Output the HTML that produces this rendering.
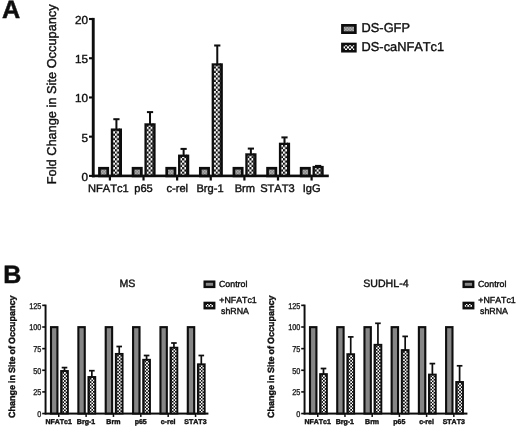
<!DOCTYPE html>
<html><head><meta charset="utf-8"><title>Figure</title>
<style>
html,body{margin:0;padding:0;background:#fff;}
body{width:520px;height:429px;overflow:hidden;font-family:"Liberation Sans",sans-serif;}
svg{display:block;}
text{font-family:"Liberation Sans",sans-serif;fill:#111;stroke:#111;stroke-width:0.4px;font-kerning:none;text-rendering:geometricPrecision;}
</style></head><body>
<svg width="520" height="429" viewBox="0 0 520 429">
<defs>
<filter id="soft" x="0" y="0" width="520" height="429" filterUnits="userSpaceOnUse"><feGaussianBlur stdDeviation="0.45"/></filter>
<pattern id="dotA" width="1.5" height="1.5" patternUnits="userSpaceOnUse">
<rect width="1.5" height="1.5" fill="#c6c6c6"/>
<rect x="0" y="0" width="0.75" height="0.75" fill="#6c6c6c"/>
<rect x="0.75" y="0.75" width="0.75" height="0.75" fill="#6c6c6c"/>
</pattern>

<pattern id="c1" x="110.85" y="64.08" width="4.080" height="4.480" patternUnits="userSpaceOnUse"><rect width="4.080" height="4.480" fill="#fff"/><rect x="0" y="0" width="2.040" height="2.240" fill="#0d0d0d"/><rect x="2.040" y="2.240" width="2.040" height="2.240" fill="#0d0d0d"/></pattern>
<pattern id="c2" x="144.47" y="64.08" width="4.080" height="4.480" patternUnits="userSpaceOnUse"><rect width="4.080" height="4.480" fill="#fff"/><rect x="0" y="0" width="2.040" height="2.240" fill="#0d0d0d"/><rect x="2.040" y="2.240" width="2.040" height="2.240" fill="#0d0d0d"/></pattern>
<pattern id="c3" x="178.09" y="64.08" width="4.080" height="4.480" patternUnits="userSpaceOnUse"><rect width="4.080" height="4.480" fill="#fff"/><rect x="0" y="0" width="2.040" height="2.240" fill="#0d0d0d"/><rect x="2.040" y="2.240" width="2.040" height="2.240" fill="#0d0d0d"/></pattern>
<pattern id="c4" x="211.71" y="64.08" width="4.080" height="4.480" patternUnits="userSpaceOnUse"><rect width="4.080" height="4.480" fill="#fff"/><rect x="0" y="0" width="2.040" height="2.240" fill="#0d0d0d"/><rect x="2.040" y="2.240" width="2.040" height="2.240" fill="#0d0d0d"/></pattern>
<pattern id="c5" x="245.33" y="64.08" width="4.080" height="4.480" patternUnits="userSpaceOnUse"><rect width="4.080" height="4.480" fill="#fff"/><rect x="0" y="0" width="2.040" height="2.240" fill="#0d0d0d"/><rect x="2.040" y="2.240" width="2.040" height="2.240" fill="#0d0d0d"/></pattern>
<pattern id="c6" x="278.95" y="64.08" width="4.080" height="4.480" patternUnits="userSpaceOnUse"><rect width="4.080" height="4.480" fill="#fff"/><rect x="0" y="0" width="2.040" height="2.240" fill="#0d0d0d"/><rect x="2.040" y="2.240" width="2.040" height="2.240" fill="#0d0d0d"/></pattern>
<pattern id="c7" x="312.57" y="64.08" width="4.080" height="4.480" patternUnits="userSpaceOnUse"><rect width="4.080" height="4.480" fill="#fff"/><rect x="0" y="0" width="2.040" height="2.240" fill="#0d0d0d"/><rect x="2.040" y="2.240" width="2.040" height="2.240" fill="#0d0d0d"/></pattern>
<pattern id="c8" x="343.00" y="44.00" width="4.000" height="4.480" patternUnits="userSpaceOnUse"><rect width="4.000" height="4.480" fill="#fff"/><rect x="0" y="0" width="2.000" height="2.240" fill="#0d0d0d"/><rect x="2.000" y="2.240" width="2.000" height="2.240" fill="#0d0d0d"/></pattern>
<pattern id="c9" x="60.82" y="370.40" width="3.260" height="3.260" patternUnits="userSpaceOnUse"><rect width="3.260" height="3.260" fill="#fff"/><rect x="0" y="0" width="1.630" height="1.630" fill="#0d0d0d"/><rect x="1.630" y="1.630" width="1.630" height="1.630" fill="#0d0d0d"/></pattern>
<pattern id="c10" x="88.18" y="376.40" width="3.260" height="3.260" patternUnits="userSpaceOnUse"><rect width="3.260" height="3.260" fill="#fff"/><rect x="0" y="0" width="1.630" height="1.630" fill="#0d0d0d"/><rect x="1.630" y="1.630" width="1.630" height="1.630" fill="#0d0d0d"/></pattern>
<pattern id="c11" x="115.54" y="353.30" width="3.260" height="3.260" patternUnits="userSpaceOnUse"><rect width="3.260" height="3.260" fill="#fff"/><rect x="0" y="0" width="1.630" height="1.630" fill="#0d0d0d"/><rect x="1.630" y="1.630" width="1.630" height="1.630" fill="#0d0d0d"/></pattern>
<pattern id="c12" x="142.90" y="359.20" width="3.260" height="3.260" patternUnits="userSpaceOnUse"><rect width="3.260" height="3.260" fill="#fff"/><rect x="0" y="0" width="1.630" height="1.630" fill="#0d0d0d"/><rect x="1.630" y="1.630" width="1.630" height="1.630" fill="#0d0d0d"/></pattern>
<pattern id="c13" x="170.26" y="347.10" width="3.260" height="3.260" patternUnits="userSpaceOnUse"><rect width="3.260" height="3.260" fill="#fff"/><rect x="0" y="0" width="1.630" height="1.630" fill="#0d0d0d"/><rect x="1.630" y="1.630" width="1.630" height="1.630" fill="#0d0d0d"/></pattern>
<pattern id="c14" x="197.62" y="363.70" width="3.260" height="3.260" patternUnits="userSpaceOnUse"><rect width="3.260" height="3.260" fill="#fff"/><rect x="0" y="0" width="1.630" height="1.630" fill="#0d0d0d"/><rect x="1.630" y="1.630" width="1.630" height="1.630" fill="#0d0d0d"/></pattern>
<pattern id="c15" x="205.30" y="303.60" width="3.100" height="3.100" patternUnits="userSpaceOnUse"><rect width="3.100" height="3.100" fill="#fff"/><rect x="0" y="0" width="1.550" height="1.550" fill="#0d0d0d"/><rect x="1.550" y="1.550" width="1.550" height="1.550" fill="#0d0d0d"/></pattern>
<pattern id="c16" x="319.82" y="373.50" width="3.260" height="3.260" patternUnits="userSpaceOnUse"><rect width="3.260" height="3.260" fill="#fff"/><rect x="0" y="0" width="1.630" height="1.630" fill="#0d0d0d"/><rect x="1.630" y="1.630" width="1.630" height="1.630" fill="#0d0d0d"/></pattern>
<pattern id="c17" x="347.04" y="353.60" width="3.260" height="3.260" patternUnits="userSpaceOnUse"><rect width="3.260" height="3.260" fill="#fff"/><rect x="0" y="0" width="1.630" height="1.630" fill="#0d0d0d"/><rect x="1.630" y="1.630" width="1.630" height="1.630" fill="#0d0d0d"/></pattern>
<pattern id="c18" x="374.26" y="344.20" width="3.260" height="3.260" patternUnits="userSpaceOnUse"><rect width="3.260" height="3.260" fill="#fff"/><rect x="0" y="0" width="1.630" height="1.630" fill="#0d0d0d"/><rect x="1.630" y="1.630" width="1.630" height="1.630" fill="#0d0d0d"/></pattern>
<pattern id="c19" x="401.48" y="349.50" width="3.260" height="3.260" patternUnits="userSpaceOnUse"><rect width="3.260" height="3.260" fill="#fff"/><rect x="0" y="0" width="1.630" height="1.630" fill="#0d0d0d"/><rect x="1.630" y="1.630" width="1.630" height="1.630" fill="#0d0d0d"/></pattern>
<pattern id="c20" x="428.70" y="374.00" width="3.260" height="3.260" patternUnits="userSpaceOnUse"><rect width="3.260" height="3.260" fill="#fff"/><rect x="0" y="0" width="1.630" height="1.630" fill="#0d0d0d"/><rect x="1.630" y="1.630" width="1.630" height="1.630" fill="#0d0d0d"/></pattern>
<pattern id="c21" x="455.92" y="381.40" width="3.260" height="3.260" patternUnits="userSpaceOnUse"><rect width="3.260" height="3.260" fill="#fff"/><rect x="0" y="0" width="1.630" height="1.630" fill="#0d0d0d"/><rect x="1.630" y="1.630" width="1.630" height="1.630" fill="#0d0d0d"/></pattern>
<pattern id="c22" x="464.30" y="303.60" width="3.100" height="3.100" patternUnits="userSpaceOnUse"><rect width="3.100" height="3.100" fill="#fff"/><rect x="0" y="0" width="1.550" height="1.550" fill="#0d0d0d"/><rect x="1.550" y="1.550" width="1.550" height="1.550" fill="#0d0d0d"/></pattern>
</defs>
<rect width="520" height="429" fill="#fff"/>
<g filter="url(#soft)">
<text x="2.0" y="18.4" font-size="25.2" font-weight="bold" style="stroke-width:0.5px">A</text>
<text transform="translate(56.4,184.3) rotate(-90)" font-size="12.8">Fold Change in Site Occupancy</text>
<rect x="91.8" y="17.9" width="2.9" height="159.4" fill="#0d0d0d"/>
<rect x="92" y="174.6" width="236.8" height="2.6" fill="#0d0d0d"/>
<rect x="89" y="174.85" width="4" height="2.1" fill="#0d0d0d"/>
<text x="87.9" y="180.90" font-size="11.7" text-anchor="end">0</text>
<rect x="89" y="135.62" width="4" height="2.1" fill="#0d0d0d"/>
<text x="87.9" y="141.68" font-size="11.7" text-anchor="end">5</text>
<rect x="89" y="96.40" width="4" height="2.1" fill="#0d0d0d"/>
<text x="87.9" y="102.45" font-size="11.7" text-anchor="end">10</text>
<rect x="89" y="57.18" width="4" height="2.1" fill="#0d0d0d"/>
<text x="87.9" y="63.23" font-size="11.7" text-anchor="end">15</text>
<rect x="89" y="17.95" width="4" height="2.1" fill="#0d0d0d"/>
<text x="87.9" y="24.00" font-size="11.7" text-anchor="end">20</text>
<rect x="99.45" y="168.25" width="8.30" height="7.65" fill="url(#dotA)" stroke="#0d0d0d" stroke-width="2.7"/>
<rect x="115.40" y="119.20" width="2" height="10.30" fill="#0d0d0d"/>
<rect x="113.30" y="118.20" width="6.2" height="2" fill="#0d0d0d"/>
<rect x="111.95" y="129.65" width="8.90" height="46.25" fill="url(#c1)" stroke="#0d0d0d" stroke-width="2.3"/>
<rect x="118.90" y="128.50" width="1.0" height="47.40" fill="#0d0d0d"/>
<rect x="108.80" y="176" width="2.2" height="4.5" fill="#0d0d0d"/>
<text x="108.30" y="192.3" font-size="11.1" text-anchor="middle">NFATc1</text>
<rect x="133.07" y="168.25" width="8.30" height="7.65" fill="url(#dotA)" stroke="#0d0d0d" stroke-width="2.7"/>
<rect x="149.02" y="112.10" width="2" height="12.20" fill="#0d0d0d"/>
<rect x="146.92" y="111.10" width="6.2" height="2" fill="#0d0d0d"/>
<rect x="145.57" y="124.45" width="8.90" height="51.45" fill="url(#c2)" stroke="#0d0d0d" stroke-width="2.3"/>
<rect x="152.52" y="123.30" width="1.0" height="52.60" fill="#0d0d0d"/>
<rect x="142.42" y="176" width="2.2" height="4.5" fill="#0d0d0d"/>
<text x="143.50" y="192.3" font-size="11.1" text-anchor="middle">p65</text>
<rect x="166.69" y="168.25" width="8.30" height="7.65" fill="url(#dotA)" stroke="#0d0d0d" stroke-width="2.7"/>
<rect x="182.64" y="148.90" width="2" height="6.70" fill="#0d0d0d"/>
<rect x="180.54" y="147.90" width="6.2" height="2" fill="#0d0d0d"/>
<rect x="179.19" y="155.75" width="8.90" height="20.15" fill="url(#c3)" stroke="#0d0d0d" stroke-width="2.3"/>
<rect x="186.14" y="154.60" width="1.0" height="21.30" fill="#0d0d0d"/>
<rect x="176.04" y="176" width="2.2" height="4.5" fill="#0d0d0d"/>
<text x="177.30" y="192.3" font-size="11.1" text-anchor="middle">c-rel</text>
<rect x="200.31" y="168.25" width="8.30" height="7.65" fill="url(#dotA)" stroke="#0d0d0d" stroke-width="2.7"/>
<rect x="216.26" y="45.50" width="2" height="18.80" fill="#0d0d0d"/>
<rect x="214.16" y="44.50" width="6.2" height="2" fill="#0d0d0d"/>
<rect x="212.81" y="64.45" width="8.90" height="111.45" fill="url(#c4)" stroke="#0d0d0d" stroke-width="2.3"/>
<rect x="219.76" y="63.30" width="1.0" height="112.60" fill="#0d0d0d"/>
<rect x="209.66" y="176" width="2.2" height="4.5" fill="#0d0d0d"/>
<text x="210.00" y="192.3" font-size="11.1" text-anchor="middle">Brg-1</text>
<rect x="233.93" y="168.25" width="8.30" height="7.65" fill="url(#dotA)" stroke="#0d0d0d" stroke-width="2.7"/>
<rect x="249.88" y="148.60" width="2" height="5.70" fill="#0d0d0d"/>
<rect x="247.78" y="147.60" width="6.2" height="2" fill="#0d0d0d"/>
<rect x="246.43" y="154.45" width="8.90" height="21.45" fill="url(#c5)" stroke="#0d0d0d" stroke-width="2.3"/>
<rect x="253.38" y="153.30" width="1.0" height="22.60" fill="#0d0d0d"/>
<rect x="243.28" y="176" width="2.2" height="4.5" fill="#0d0d0d"/>
<text x="244.90" y="192.3" font-size="11.1" text-anchor="middle">Brm</text>
<rect x="267.55" y="168.25" width="8.30" height="7.65" fill="url(#dotA)" stroke="#0d0d0d" stroke-width="2.7"/>
<rect x="283.50" y="137.40" width="2" height="6.30" fill="#0d0d0d"/>
<rect x="281.40" y="136.40" width="6.2" height="2" fill="#0d0d0d"/>
<rect x="280.05" y="143.85" width="8.90" height="32.05" fill="url(#c6)" stroke="#0d0d0d" stroke-width="2.3"/>
<rect x="287.00" y="142.70" width="1.0" height="33.20" fill="#0d0d0d"/>
<rect x="276.90" y="176" width="2.2" height="4.5" fill="#0d0d0d"/>
<text x="277.40" y="192.3" font-size="11.1" text-anchor="middle">STAT3</text>
<rect x="301.17" y="168.25" width="8.30" height="7.65" fill="url(#dotA)" stroke="#0d0d0d" stroke-width="2.7"/>
<rect x="317.12" y="165.90" width="2" height="1.00" fill="#0d0d0d"/>
<rect x="315.02" y="164.90" width="6.2" height="2" fill="#0d0d0d"/>
<rect x="313.67" y="167.05" width="8.90" height="8.85" fill="url(#c7)" stroke="#0d0d0d" stroke-width="2.3"/>
<rect x="320.62" y="165.90" width="1.0" height="10.00" fill="#0d0d0d"/>
<rect x="310.52" y="176" width="2.2" height="4.5" fill="#0d0d0d"/>
<text x="311.60" y="192.3" font-size="11.1" text-anchor="middle">IgG</text>
<rect x="342.45" y="25.35" width="12.90" height="7.30" fill="url(#dotA)" stroke="#0d0d0d" stroke-width="2.7"/>
<text x="361.6" y="32.4" font-size="12.8">DS-GFP</text>
<rect x="342.35" y="43.95" width="13.10" height="7.30" fill="url(#c8)" stroke="#0d0d0d" stroke-width="2.5"/>
<text x="361.6" y="50.5" font-size="12.8">DS-caNFATc1</text>
<text x="3.3" y="282.6" font-size="25" font-weight="bold" style="stroke-width:0.5px">B</text>
<text x="127.40" y="287.25" font-size="10.6" text-anchor="middle">MS</text>
<text transform="translate(15.40,418.1) rotate(-90)" font-size="9.0" font-weight="bold" word-spacing="-0.5">Change in Site of Occupancy</text>
<rect x="44.60" y="304.56" width="1.9" height="109.89" fill="#0d0d0d"/>
<rect x="44.80" y="412.60" width="163.60" height="2.0" fill="#0d0d0d"/>
<rect x="42.20" y="412.75" width="3" height="1.6" fill="#0d0d0d"/>
<text transform="translate(41.30,416.85) scale(0.87,1)" font-size="8.4" text-anchor="end" style="stroke-width:0.3px">0</text>
<rect x="42.20" y="391.11" width="3" height="1.6" fill="#0d0d0d"/>
<text transform="translate(41.30,395.21) scale(0.87,1)" font-size="8.4" text-anchor="end" style="stroke-width:0.3px">25</text>
<rect x="42.20" y="369.47" width="3" height="1.6" fill="#0d0d0d"/>
<text transform="translate(41.30,373.57) scale(0.87,1)" font-size="8.4" text-anchor="end" style="stroke-width:0.3px">50</text>
<rect x="42.20" y="347.84" width="3" height="1.6" fill="#0d0d0d"/>
<text transform="translate(41.30,351.94) scale(0.87,1)" font-size="8.4" text-anchor="end" style="stroke-width:0.3px">75</text>
<rect x="42.20" y="326.20" width="3" height="1.6" fill="#0d0d0d"/>
<text transform="translate(41.30,330.30) scale(0.87,1)" font-size="8.4" text-anchor="end" style="stroke-width:0.3px">100</text>
<rect x="42.20" y="304.56" width="3" height="1.6" fill="#0d0d0d"/>
<text transform="translate(41.30,308.66) scale(0.87,1)" font-size="8.4" text-anchor="end" style="stroke-width:0.3px">125</text>
<rect x="51.00" y="327.15" width="6.40" height="86.40" fill="#868686" stroke="#0d0d0d" stroke-width="2.1"/>
<rect x="63.65" y="367.60" width="1.7" height="3.70" fill="#0d0d0d"/>
<rect x="61.70" y="366.75" width="5.6" height="1.7" fill="#0d0d0d"/>
<rect x="61.10" y="371.00" width="6.80" height="42.55" fill="url(#c9)" stroke="#0d0d0d" stroke-width="1.9"/>
<rect x="61.75" y="370.30" width="0.7" height="43.25" fill="#0d0d0d"/>
<rect x="58.00" y="413.55" width="1.5" height="3.4" fill="#0d0d0d"/>
<text x="58.65" y="423.9" font-size="7.0" font-weight="bold" text-anchor="middle" style="stroke-width:0.4px">NFATc1</text>
<rect x="78.36" y="327.15" width="6.40" height="86.40" fill="#868686" stroke="#0d0d0d" stroke-width="2.1"/>
<rect x="91.01" y="370.70" width="1.7" height="6.60" fill="#0d0d0d"/>
<rect x="89.06" y="369.85" width="5.6" height="1.7" fill="#0d0d0d"/>
<rect x="88.46" y="377.00" width="6.80" height="36.55" fill="url(#c10)" stroke="#0d0d0d" stroke-width="1.9"/>
<rect x="89.11" y="376.30" width="0.7" height="37.25" fill="#0d0d0d"/>
<rect x="85.36" y="413.55" width="1.5" height="3.4" fill="#0d0d0d"/>
<text x="86.01" y="423.9" font-size="7.0" font-weight="bold" text-anchor="middle" style="stroke-width:0.4px">Brg-1</text>
<rect x="105.72" y="327.15" width="6.40" height="86.40" fill="#868686" stroke="#0d0d0d" stroke-width="2.1"/>
<rect x="118.37" y="346.50" width="1.7" height="7.70" fill="#0d0d0d"/>
<rect x="116.42" y="345.65" width="5.6" height="1.7" fill="#0d0d0d"/>
<rect x="115.82" y="353.90" width="6.80" height="59.65" fill="url(#c11)" stroke="#0d0d0d" stroke-width="1.9"/>
<rect x="116.47" y="353.20" width="0.7" height="60.35" fill="#0d0d0d"/>
<rect x="112.72" y="413.55" width="1.5" height="3.4" fill="#0d0d0d"/>
<text x="113.37" y="423.9" font-size="7.0" font-weight="bold" text-anchor="middle" style="stroke-width:0.4px">Brm</text>
<rect x="133.08" y="327.15" width="6.40" height="86.40" fill="#868686" stroke="#0d0d0d" stroke-width="2.1"/>
<rect x="145.73" y="355.50" width="1.7" height="4.60" fill="#0d0d0d"/>
<rect x="143.78" y="354.65" width="5.6" height="1.7" fill="#0d0d0d"/>
<rect x="143.18" y="359.80" width="6.80" height="53.75" fill="url(#c12)" stroke="#0d0d0d" stroke-width="1.9"/>
<rect x="143.83" y="359.10" width="0.7" height="54.45" fill="#0d0d0d"/>
<rect x="140.08" y="413.55" width="1.5" height="3.4" fill="#0d0d0d"/>
<text x="140.73" y="423.9" font-size="7.0" font-weight="bold" text-anchor="middle" style="stroke-width:0.4px">p65</text>
<rect x="160.44" y="327.15" width="6.40" height="86.40" fill="#868686" stroke="#0d0d0d" stroke-width="2.1"/>
<rect x="173.09" y="343.00" width="1.7" height="5.00" fill="#0d0d0d"/>
<rect x="171.14" y="342.15" width="5.6" height="1.7" fill="#0d0d0d"/>
<rect x="170.54" y="347.70" width="6.80" height="65.85" fill="url(#c13)" stroke="#0d0d0d" stroke-width="1.9"/>
<rect x="171.19" y="347.00" width="0.7" height="66.55" fill="#0d0d0d"/>
<rect x="167.44" y="413.55" width="1.5" height="3.4" fill="#0d0d0d"/>
<text x="168.09" y="423.9" font-size="7.0" font-weight="bold" text-anchor="middle" style="stroke-width:0.4px">c-rel</text>
<rect x="187.80" y="327.15" width="6.40" height="86.40" fill="#868686" stroke="#0d0d0d" stroke-width="2.1"/>
<rect x="200.45" y="355.50" width="1.7" height="9.10" fill="#0d0d0d"/>
<rect x="198.50" y="354.65" width="5.6" height="1.7" fill="#0d0d0d"/>
<rect x="197.90" y="364.30" width="6.80" height="49.25" fill="url(#c14)" stroke="#0d0d0d" stroke-width="1.9"/>
<rect x="198.55" y="363.60" width="0.7" height="49.95" fill="#0d0d0d"/>
<rect x="194.80" y="413.55" width="1.5" height="3.4" fill="#0d0d0d"/>
<text x="195.45" y="423.9" font-size="7.0" font-weight="bold" text-anchor="middle" style="stroke-width:0.4px">STAT3</text>
<rect x="204.65" y="281.65" width="9.60" height="5.30" fill="#868686" stroke="#0d0d0d" stroke-width="2.3"/>
<text x="219.00" y="287.3" font-size="8.8">Control</text>
<rect x="204.65" y="302.85" width="9.60" height="5.40" fill="url(#c15)" stroke="#0d0d0d" stroke-width="2.3"/>
<text x="219.30" y="303.4" font-size="8.8">+NFATc1</text>
<text x="221.00" y="313.5" font-size="8.8">shRNA</text>
<text x="385.90" y="287.25" font-size="10.6" text-anchor="middle">SUDHL-4</text>
<text transform="translate(274.40,418.1) rotate(-90)" font-size="9.0" font-weight="bold" word-spacing="-0.5">Change in Site of Occupancy</text>
<rect x="303.60" y="304.56" width="1.9" height="109.89" fill="#0d0d0d"/>
<rect x="303.80" y="412.60" width="163.60" height="2.0" fill="#0d0d0d"/>
<rect x="301.20" y="412.75" width="3" height="1.6" fill="#0d0d0d"/>
<text transform="translate(300.30,416.85) scale(0.87,1)" font-size="8.4" text-anchor="end" style="stroke-width:0.3px">0</text>
<rect x="301.20" y="391.11" width="3" height="1.6" fill="#0d0d0d"/>
<text transform="translate(300.30,395.21) scale(0.87,1)" font-size="8.4" text-anchor="end" style="stroke-width:0.3px">25</text>
<rect x="301.20" y="369.47" width="3" height="1.6" fill="#0d0d0d"/>
<text transform="translate(300.30,373.57) scale(0.87,1)" font-size="8.4" text-anchor="end" style="stroke-width:0.3px">50</text>
<rect x="301.20" y="347.84" width="3" height="1.6" fill="#0d0d0d"/>
<text transform="translate(300.30,351.94) scale(0.87,1)" font-size="8.4" text-anchor="end" style="stroke-width:0.3px">75</text>
<rect x="301.20" y="326.20" width="3" height="1.6" fill="#0d0d0d"/>
<text transform="translate(300.30,330.30) scale(0.87,1)" font-size="8.4" text-anchor="end" style="stroke-width:0.3px">100</text>
<rect x="301.20" y="304.56" width="3" height="1.6" fill="#0d0d0d"/>
<text transform="translate(300.30,308.66) scale(0.87,1)" font-size="8.4" text-anchor="end" style="stroke-width:0.3px">125</text>
<rect x="310.00" y="327.15" width="6.40" height="86.40" fill="#868686" stroke="#0d0d0d" stroke-width="2.1"/>
<rect x="322.65" y="368.50" width="1.7" height="5.90" fill="#0d0d0d"/>
<rect x="320.70" y="367.65" width="5.6" height="1.7" fill="#0d0d0d"/>
<rect x="320.10" y="374.10" width="6.80" height="39.45" fill="url(#c16)" stroke="#0d0d0d" stroke-width="1.9"/>
<rect x="320.75" y="373.40" width="0.7" height="40.15" fill="#0d0d0d"/>
<rect x="317.00" y="413.55" width="1.5" height="3.4" fill="#0d0d0d"/>
<text x="317.65" y="423.9" font-size="7.0" font-weight="bold" text-anchor="middle" style="stroke-width:0.4px">NFATc1</text>
<rect x="337.22" y="327.15" width="6.40" height="86.40" fill="#868686" stroke="#0d0d0d" stroke-width="2.1"/>
<rect x="349.87" y="336.90" width="1.7" height="17.60" fill="#0d0d0d"/>
<rect x="347.92" y="336.05" width="5.6" height="1.7" fill="#0d0d0d"/>
<rect x="347.32" y="354.20" width="6.80" height="59.35" fill="url(#c17)" stroke="#0d0d0d" stroke-width="1.9"/>
<rect x="347.97" y="353.50" width="0.7" height="60.05" fill="#0d0d0d"/>
<rect x="344.22" y="413.55" width="1.5" height="3.4" fill="#0d0d0d"/>
<text x="344.87" y="423.9" font-size="7.0" font-weight="bold" text-anchor="middle" style="stroke-width:0.4px">Brg-1</text>
<rect x="364.44" y="327.15" width="6.40" height="86.40" fill="#868686" stroke="#0d0d0d" stroke-width="2.1"/>
<rect x="377.09" y="323.30" width="1.7" height="21.80" fill="#0d0d0d"/>
<rect x="375.14" y="322.45" width="5.6" height="1.7" fill="#0d0d0d"/>
<rect x="374.54" y="344.80" width="6.80" height="68.75" fill="url(#c18)" stroke="#0d0d0d" stroke-width="1.9"/>
<rect x="375.19" y="344.10" width="0.7" height="69.45" fill="#0d0d0d"/>
<rect x="371.44" y="413.55" width="1.5" height="3.4" fill="#0d0d0d"/>
<text x="372.09" y="423.9" font-size="7.0" font-weight="bold" text-anchor="middle" style="stroke-width:0.4px">Brm</text>
<rect x="391.66" y="327.15" width="6.40" height="86.40" fill="#868686" stroke="#0d0d0d" stroke-width="2.1"/>
<rect x="404.31" y="336.40" width="1.7" height="14.00" fill="#0d0d0d"/>
<rect x="402.36" y="335.55" width="5.6" height="1.7" fill="#0d0d0d"/>
<rect x="401.76" y="350.10" width="6.80" height="63.45" fill="url(#c19)" stroke="#0d0d0d" stroke-width="1.9"/>
<rect x="402.41" y="349.40" width="0.7" height="64.15" fill="#0d0d0d"/>
<rect x="398.66" y="413.55" width="1.5" height="3.4" fill="#0d0d0d"/>
<text x="399.31" y="423.9" font-size="7.0" font-weight="bold" text-anchor="middle" style="stroke-width:0.4px">p65</text>
<rect x="418.88" y="327.15" width="6.40" height="86.40" fill="#868686" stroke="#0d0d0d" stroke-width="2.1"/>
<rect x="431.53" y="363.60" width="1.7" height="11.30" fill="#0d0d0d"/>
<rect x="429.58" y="362.75" width="5.6" height="1.7" fill="#0d0d0d"/>
<rect x="428.98" y="374.60" width="6.80" height="38.95" fill="url(#c20)" stroke="#0d0d0d" stroke-width="1.9"/>
<rect x="429.63" y="373.90" width="0.7" height="39.65" fill="#0d0d0d"/>
<rect x="425.88" y="413.55" width="1.5" height="3.4" fill="#0d0d0d"/>
<text x="426.53" y="423.9" font-size="7.0" font-weight="bold" text-anchor="middle" style="stroke-width:0.4px">c-rel</text>
<rect x="446.10" y="327.15" width="6.40" height="86.40" fill="#868686" stroke="#0d0d0d" stroke-width="2.1"/>
<rect x="458.75" y="365.80" width="1.7" height="16.50" fill="#0d0d0d"/>
<rect x="456.80" y="364.95" width="5.6" height="1.7" fill="#0d0d0d"/>
<rect x="456.20" y="382.00" width="6.80" height="31.55" fill="url(#c21)" stroke="#0d0d0d" stroke-width="1.9"/>
<rect x="456.85" y="381.30" width="0.7" height="32.25" fill="#0d0d0d"/>
<rect x="453.10" y="413.55" width="1.5" height="3.4" fill="#0d0d0d"/>
<text x="453.75" y="423.9" font-size="7.0" font-weight="bold" text-anchor="middle" style="stroke-width:0.4px">STAT3</text>
<rect x="463.65" y="281.65" width="9.60" height="5.30" fill="#868686" stroke="#0d0d0d" stroke-width="2.3"/>
<text x="478.00" y="287.3" font-size="8.8">Control</text>
<rect x="463.65" y="302.85" width="9.60" height="5.40" fill="url(#c22)" stroke="#0d0d0d" stroke-width="2.3"/>
<text x="478.30" y="303.4" font-size="8.8">+NFATc1</text>
<text x="480.00" y="313.5" font-size="8.8">shRNA</text>
</g>
</svg></body></html>
